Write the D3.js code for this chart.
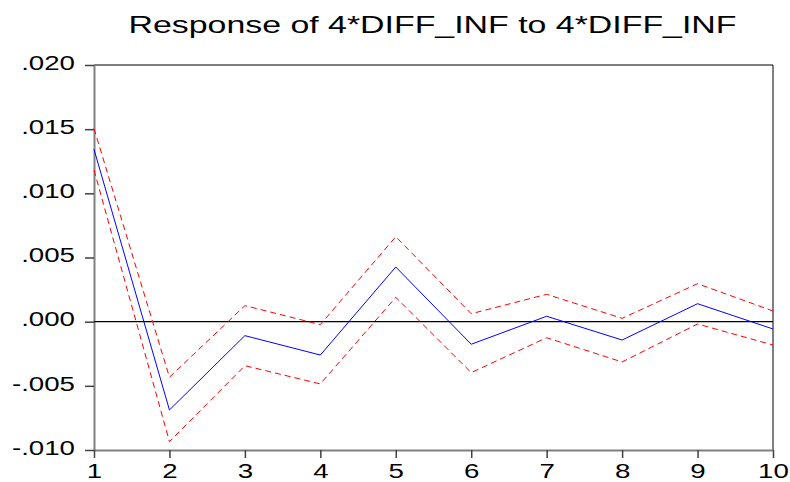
<!DOCTYPE html>
<html><head><meta charset="utf-8">
<script src="https://cdn.jsdelivr.net/npm/d3@7"></script>
<style>body{margin:0;background:#fff}svg{display:block}</style>
</head><body>
<svg id="c" width="790" height="482"></svg>
<script>
const periods = [1,2,3,4,5,6,7,8,9,10];
const response = [0.01343,-0.00688,-0.00109,-0.00260,0.00426,-0.00176,0.00042,-0.00143,0.00140,-0.00057];
const upperBand = [0.01505,-0.00433,0.00125,-0.00023,0.00662,0.00062,0.00213,0.00026,0.00296,0.00083];
const lowerBand = [0.01182,-0.00935,-0.00343,-0.00485,0.00190,-0.00397,-0.00125,-0.00314,-0.00018,-0.00182];
const yTicks = [-0.010,-0.005,0.000,0.005,0.010,0.015,0.020];
const titleText = "Response of 4*DIFF_INF to 4*DIFF_INF";

const svg = d3.select("#c");
const L=94, R=773, T=65, B=450;
const x = d3.scaleLinear().domain([1,10]).range([L,R]);
const y = d3.scaleLinear().domain([-0.010,0.020]).range([B,T]);
const font = "Arial, 'Liberation Sans', sans-serif";
const SX = 1.42;

svg.append("text").attr("x",128.5).attr("y",32.7).attr("text-anchor","start")
  .attr("font-family",font).attr("font-size",24.5).attr("fill","#000")
  .attr("textLength",608).attr("lengthAdjust","spacingAndGlyphs").text(titleText);

// frame top/right
svg.append("line").attr("x1",L).attr("x2",R).attr("y1",T).attr("y2",T).attr("stroke","#000").attr("stroke-width",1);
svg.append("line").attr("x1",R).attr("x2",R).attr("y1",T).attr("y2",B).attr("stroke","#000").attr("stroke-width",1);

const fmt = v => { const s = Math.abs(v).toFixed(3).replace(/^0/,""); return (v< -1e-9?"-":"")+s; };

const yAxis = d3.axisLeft(y).tickValues(yTicks).tickSize(9).tickSizeOuter(0).tickFormat(fmt);
const gy = svg.append("g").attr("transform",`translate(${L},0)`).call(yAxis);
gy.select(".domain").attr("stroke","#808080").attr("stroke-width",2);
gy.selectAll(".tick line").attr("stroke","#404040").attr("stroke-width",1.5);
gy.selectAll("text").attr("font-family",font).attr("font-size",19.5).attr("fill","#000")
  .attr("text-anchor","end").attr("x",-19/SX).attr("dy",null).attr("y",4.3)
  .attr("transform",`scale(${SX},1)`);

const xAxis = d3.axisBottom(x).tickValues(periods).tickSize(8).tickSizeOuter(0).tickFormat(d3.format("d"));
const gx = svg.append("g").attr("transform",`translate(0,${B})`).call(xAxis);
gx.select(".domain").attr("stroke","#808080").attr("stroke-width",2);
gx.selectAll(".tick line").attr("stroke","#404040").attr("stroke-width",1.5);
gx.selectAll("text").attr("font-family",font).attr("font-size",19.5).attr("fill","#000")
  .attr("dy",null).attr("y",28.3).attr("x",0).attr("transform",`scale(${SX},1)`);

// zero line
svg.append("line").attr("x1",L).attr("x2",R).attr("y1",y(0)).attr("y2",y(0)).attr("stroke","#000").attr("stroke-width",1.3);

const line = d3.line().x((d,i)=>x(periods[i])).y(d=>y(d));
svg.append("path").datum(upperBand).attr("d",line).attr("fill","none").attr("stroke","#ff0000").attr("stroke-width",1).attr("stroke-dasharray","6,4");
svg.append("path").datum(lowerBand).attr("d",line).attr("fill","none").attr("stroke","#ff0000").attr("stroke-width",1).attr("stroke-dasharray","6,4");
svg.append("path").datum(response).attr("d",line).attr("fill","none").attr("stroke","#0000ff").attr("stroke-width",1);
</script>
</body></html>
